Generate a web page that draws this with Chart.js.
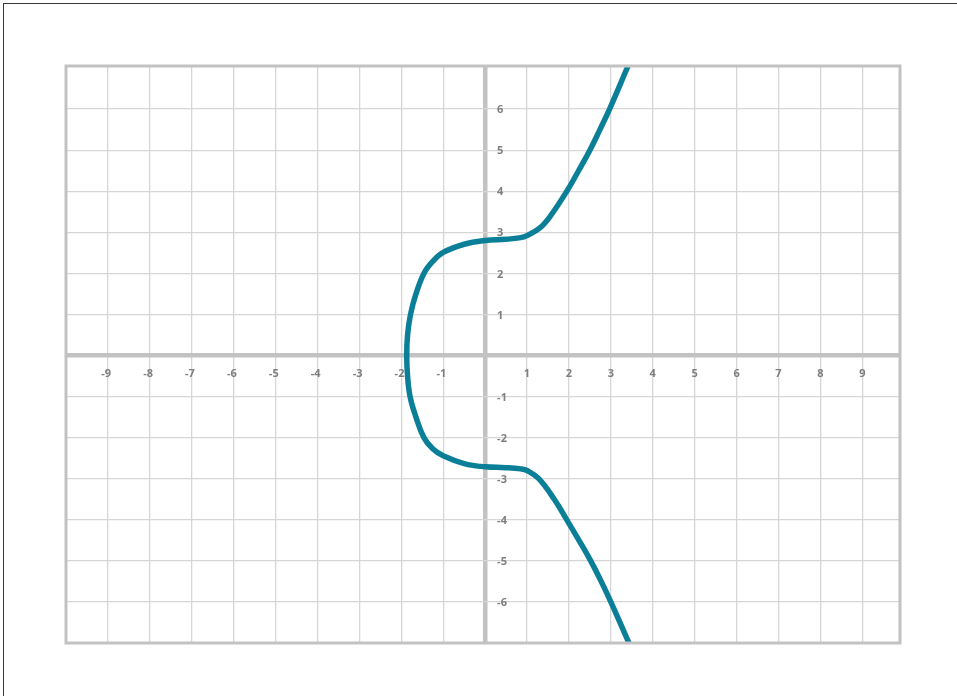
<!DOCTYPE html>
<html>
<head>
<meta charset="utf-8">
<script src="https://cdn.jsdelivr.net/npm/chart.js@4.4.1/dist/chart.umd.min.js"></script>
<style>
  html, body { margin: 0; padding: 0; background: #ffffff; overflow: hidden; }
  #frame { position: absolute; left: 3px; top: 3px; width: 2000px; height: 2000px; border: 1.5px solid #3a3a3a; box-sizing: border-box; }
  #wrap { position: absolute; left: 0; top: 0; width: 957px; height: 696px; }
</style>
</head>
<body>
<div id="frame"></div>
<div id="wrap"><canvas id="c" width="957" height="696"></canvas></div>
<script>
// Curve points (traced from the top-right end, round the left, to the bottom-right end)
const curveX = [3.41, 2.97, 2.74, 2.50, 2.23, 1.95, 1.56, 1.30, 1.00, 0.85, 0.50, 0.00, -0.50, -1.00, -1.25, -1.46, -1.65, -1.78, -1.85, -1.87,
                -1.85, -1.79, -1.65, -1.46, -1.25, -1.00, -0.50, 0.00, 0.50, 0.85, 1.00, 1.28, 1.65, 1.95, 2.24, 2.52, 2.77, 3.00, 3.42];
const curveY = [7.05, 6.00, 5.50, 5.00, 4.50, 4.00, 3.40, 3.10, 2.92, 2.87, 2.83, 2.80, 2.71, 2.51, 2.29, 2.00, 1.50, 1.00, 0.50, 0.00,
                -0.50, -1.00, -1.50, -2.00, -2.27, -2.44, -2.63, -2.71, -2.73, -2.76, -2.80, -3.00, -3.50, -4.00, -4.50, -5.00, -5.50, -6.00, -6.97];
const xTickLabels = [-9, -8, -7, -6, -5, -4, -3, -2, -1, 1, 2, 3, 4, 5, 6, 7, 8, 9];
const yTickLabels = [6, 5, 4, 3, 2, 1, -1, -2, -3, -4, -5, -6];
const xRange = [-10, 9.9];
const yRange = [-7, 7.05];

const points = curveX.map((x, i) => ({ x: x, y: curveY[i] }));

const gridColor = '#d6d6d6';
const axisColor = '#c2c2c2';
const labelColor = '#7f7f7f';

const integerTicks = (scale) => { scale.ticks = scale.ticks.filter(t => Math.abs(t.value - Math.round(t.value)) < 1e-9); };

const gridOpts = {
  color: (ctx) => (ctx.tick && ctx.tick.value === 0) ? axisColor : gridColor,
  lineWidth: (ctx) => (ctx.tick && ctx.tick.value === 0) ? 4.5 : 1.3,
  drawTicks: false
};

const labelsPlugin = {
  id: 'axisLabels',
  beforeDatasetsDraw(chart) {
    const ctx = chart.ctx;
    const xs = chart.scales.x, ys = chart.scales.y;
    const x0 = xs.getPixelForValue(0), y0 = ys.getPixelForValue(0);
    ctx.save();
    ctx.font = 'bold 11px "Open Sans", "Noto Sans", sans-serif';
    ctx.fillStyle = labelColor;
    ctx.textBaseline = 'middle';
    xTickLabels.forEach(v => {
      const digits = String(Math.abs(v));
      const w = ctx.measureText(digits).width;
      ctx.textAlign = 'right';
      ctx.fillText(String(v), xs.getPixelForValue(v) + w / 2, y0 + 18);
    });
    ctx.textAlign = 'left';
    yTickLabels.forEach(v => {
      ctx.fillText(String(v), x0 + 12, ys.getPixelForValue(v) + 1);
    });
    ctx.restore();
  },
  afterDraw(chart) {
    const ctx = chart.ctx;
    const a = chart.chartArea;
    ctx.save();
    ctx.strokeStyle = axisColor;
    ctx.lineWidth = 3;
    ctx.strokeRect(a.left, a.top, a.right - a.left, a.bottom - a.top);
    ctx.restore();
  }
};

new Chart(document.getElementById('c'), {
  type: 'scatter',
  data: {
    datasets: [{
      data: points,
      showLine: true,
      borderColor: '#0b7f97',
      borderWidth: 5.5,
      pointRadius: 0,
      tension: 0.4,
      fill: false,
      borderCapStyle: 'round',
      borderJoinStyle: 'round'
    }]
  },
  options: {
    responsive: false,
    animation: false,
    devicePixelRatio: 1,
    layout: { padding: { left: 66, top: 66, right: 57, bottom: 53 } },
    plugins: { legend: { display: false }, tooltip: { enabled: false } },
    scales: {
      x: {
        type: 'linear', min: xRange[0], max: xRange[1],
        ticks: { stepSize: 1, display: false },
        afterBuildTicks: integerTicks,
        grid: gridOpts,
        border: { display: false }
      },
      y: {
        type: 'linear', min: yRange[0], max: yRange[1],
        ticks: { stepSize: 1, display: false },
        afterBuildTicks: integerTicks,
        grid: gridOpts,
        border: { display: false }
      }
    }
  },
  plugins: [labelsPlugin]
});
</script>
</body>
</html>
